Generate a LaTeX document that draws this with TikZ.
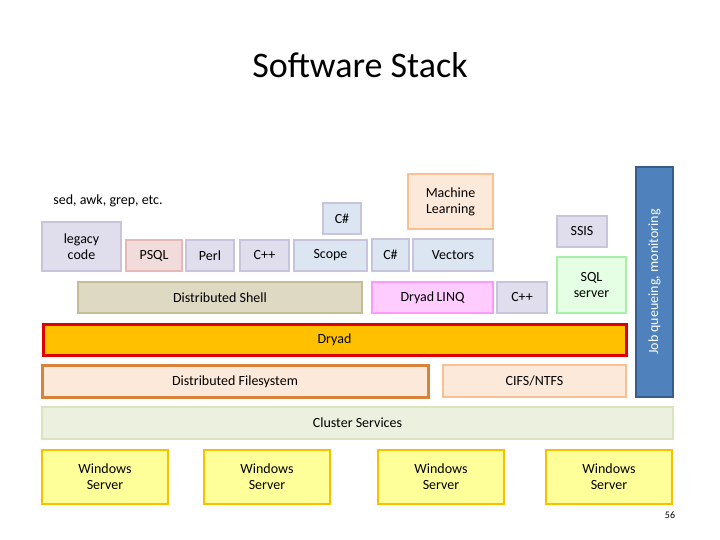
\documentclass[tikz,border=0pt]{standalone}
\usepackage{fontspec}
\setmainfont{Carlito}
\usetikzlibrary{positioning}
\definecolor{lavfill}{HTML}{E0DEEC}\definecolor{lavline}{HTML}{C8C4DC}
\definecolor{bluefill}{HTML}{DCE6F2}
\definecolor{peach}{HTML}{FDE9D9}\definecolor{peachline}{HTML}{FAC090}
\definecolor{pinkfill}{HTML}{F2DCDB}\definecolor{pinkline}{HTML}{E6B9B8}
\definecolor{shellfill}{HTML}{DDD9C3}\definecolor{shellline}{HTML}{C4BD97}
\definecolor{linqfill}{HTML}{FFCCFF}\definecolor{linqline}{HTML}{FF99FF}
\definecolor{dryadfill}{HTML}{FFC000}\definecolor{dryadline}{HTML}{E00000}
\definecolor{dfsline}{HTML}{D9823B}
\definecolor{sqlfill}{HTML}{E4FFE4}\definecolor{sqlline}{HTML}{A8F0A8}
\definecolor{jobfill}{HTML}{4F81BD}\definecolor{jobline}{HTML}{385D8A}
\definecolor{clusfill}{HTML}{EBF1DE}\definecolor{clusline}{HTML}{D7E4BD}
\definecolor{winfill}{HTML}{FFFF99}\definecolor{winline}{HTML}{F9C000}
\tikzset{
  blk/.style={draw, line width=2.5pt, inner sep=0pt, align=center,
              font=\fontsize{14}{16}\selectfont},
  lav/.style={blk, fill=lavfill, draw=lavline},
  blu/.style={blk, fill=bluefill, draw=lavline},
}
% box from corner to corner (pixel coordinates)
\newcommand{\blk}[6]{\node[#2, minimum width={#5-#3}, minimum height={#6-#4}]
  (#1) at ({(#3+#5)/2},{(#4+#6)/2}) {#1text};}
\begin{document}
\begin{tikzpicture}[x=1pt,y=-1pt]
  \useasboundingbox (0,0) rectangle (720,540);
  \node (title) at (360,65) {\fontsize{36}{40}\selectfont Software Stack};
  \node[font=\fontsize{14}{16}\selectfont] (unix) at (108,201) {sed, awk, grep, etc.};
  % top row
  \node[lav, minimum width=79, minimum height=49] (legacy) at (81.5,246.5) {legacy\\code};
  \node[blk, fill=pinkfill, draw=pinkline, minimum width=56, minimum height=31] (psql) at (154,255.5) {PSQL};
  \node[lav, minimum width=48, minimum height=31] (perl) at (210,255.5) {Perl};
  \node[lav, minimum width=49, minimum height=31] (cpp) at (264.5,255.5) {C++};
  \node[blu, minimum width=73, minimum height=31] (scope) at (330.5,255.5) {Scope};
  \node[blu, minimum width=38, minimum height=31] (csa) at (342,218.5) {C\#};
  \node[blu, minimum width=37, minimum height=32] (csb) at (390.5,255) {C\#};
  \node[blu, minimum width=80, minimum height=32] (vec) at (453,255) {Vectors};
  \node[blk, fill=peach, draw=peachline, minimum width=85, minimum height=55] (ml) at (450.5,201.5) {Machine\\Learning};
  \node[lav, minimum width=50, minimum height=31] (ssis) at (582,231.5) {SSIS};
  % middle row
  \node[blk, fill=shellfill, draw=shellline, minimum width=284, minimum height=31] (shell) at (220,297.5) {Distributed Shell};
  \node[blk, fill=linqfill, draw=linqline, minimum width=121, minimum height=31] (linq) at (432.5,297.5) {Dryad\,LINQ};
  \node[lav, minimum width=50, minimum height=31] (cppr) at (522,297.5) {C++};
  \node[blk, fill=sqlfill, draw=sqlline, minimum width=69, minimum height=56] (sql) at (591.5,285) {SQL\\server};
  % runtime and storage
  \node[blk, fill=dryadfill, draw=dryadline, line width=3pt, minimum width=583, minimum height=31] (dryad) at (334.5,339.5) {Dryad};
  \node[blk, fill=peach, draw=dfsline, line width=3pt, minimum width=386, minimum height=32] (dfs) at (235,381.5) {Distributed Filesystem};
  \node[blk, fill=peach, draw=peachline, minimum width=183, minimum height=32] (cifs) at (534.5,381) {CIFS/NTFS};
  \node[blk, fill=jobfill, draw=jobline, text=white, rotate=90, minimum width=230, minimum height=37] (job) at (654.5,282) {Job queueing, monitoring};
  \node[blk, fill=clusfill, draw=clusline, minimum width=631, minimum height=32] (clus) at (357.5,423) {Cluster Services};
  % machines
  \foreach \n/\cx in {1/105,2/267,3/441,4/609}
    \node[blk, fill=winfill, draw=winline, minimum width=126, minimum height=54] (win\n) at (\cx,477) {Windows\\Server};
  \node[font=\fontsize{10}{12}\selectfont] (page) at (670,515) {56};
\end{tikzpicture}
\end{document}
